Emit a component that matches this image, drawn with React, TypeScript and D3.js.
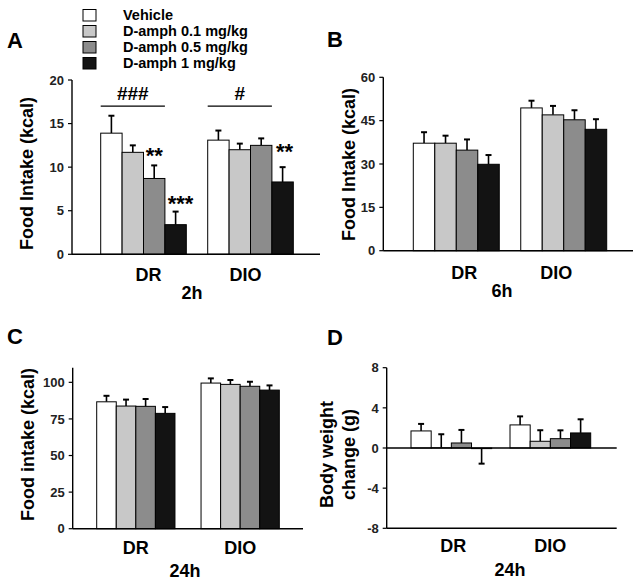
import React from "react";
import * as d3 from "d3";

const groups = ["DR", "DIO"];
const seriesNames = ["Vehicle", "D-amph 0.1 mg/kg", "D-amph 0.5 mg/kg", "D-amph 1 mg/kg"];
const seriesColors = ["#ffffff", "#c8c8c8", "#8c8c8c", "#131313"];

// Panel A: 2h food intake (kcal)
const a2hMeans = [[13.9, 11.7, 8.7, 3.4], [13.1, 12.0, 12.5, 8.3]];
const a2hErrors = [[2.0, 0.8, 1.5, 1.5], [1.1, 0.7, 0.8, 1.7]];
const aTicks = [0, 5, 10, 15, 20];
// Panel B: 6h food intake (kcal)
const b6hMeans = [[37.2, 37.2, 34.8, 29.9], [49.4, 47.0, 45.3, 42.0]];
const b6hErrors = [[3.8, 2.6, 3.7, 3.2], [2.5, 3.1, 3.3, 3.5]];
const bTicks = [0, 15, 30, 45, 60];
// Panel C: 24h food intake (kcal)
const c24hMeans = [[86.7, 83.8, 83.6, 78.8], [99.5, 98.6, 97.3, 94.7]];
const c24hErrors = [[4.1, 4.4, 5.0, 4.3], [3.2, 3.0, 3.1, 3.2]];
const cTicks = [0, 25, 50, 75, 100];
// Panel D: 24h body weight change (g)
const dBwMeans = [[1.7, 0.02, 0.5, -0.06], [2.3, 0.67, 0.93, 1.5]];
const dBwErrors = [[0.7, 1.35, 1.3, 1.5], [0.85, 1.1, 0.83, 1.36]];
const dTicks = [-8, -4, 0, 4, 8];

// significance annotations for panel A
const aStars = [
  { g: 0, s: 2, text: "**", level: 11.2, dx: 0 },
  { g: 0, s: 3, text: "***", level: 5.7, dx: 5 },
  { g: 1, s: 3, text: "**", level: 11.6, dx: 2 },
];
const aBrackets = [
  { g: 0, text: "###", level: 17.0 },
  { g: 1, text: "#", level: 17.0 },
];

const FONT = "'Liberation Sans', Arial, Helvetica, sans-serif";

type PanelProps = {
  letter: string;
  letterX: number;
  letterY: number;
  means: number[][];
  errors: number[][];
  ticks: number[];
  domain: [number, number];
  axisX: number;
  axisEnd: number;
  yTop: number;
  yBottom: number;
  bandRange: [number, number];
  padInner: number;
  titleLines: string[];
  titleX: number[];
  titleY: number;
  groupLabelY: number;
  groupLabelDx: number[];
  timeLabel: string;
  timeX: number;
  timeY: number;
  zeroLine?: boolean;
  children?: (x: any, xi: any, y: any) => React.ReactNode;
};

function Panel(p: PanelProps) {
  const y = d3.scaleLinear().domain(p.domain).range([p.yBottom, p.yTop]);
  const x = d3.scaleBand<string>().domain(groups).range(p.bandRange).paddingInner(p.padInner).paddingOuter(0);
  const xi = d3.scaleBand<string>().domain(seriesNames).range([0, x.bandwidth()]).padding(0);
  const base = p.zeroLine ? y(0) : p.yBottom;
  const cap = 3;
  return (
    <g>
      <text x={p.letterX} y={p.letterY} fontSize={22} fontWeight="bold" fontFamily={FONT}>{p.letter}</text>
      {p.titleLines.map((t, i) => (
        <text key={i} transform={`translate(${p.titleX[i]},${p.titleY}) rotate(-90)`} textAnchor="middle"
          fontSize={18} fontWeight="bold" fontFamily={FONT}>{t}</text>
      ))}
      {groups.map((g, gi) => (
        <g key={g}>
          {seriesNames.map((s, si) => {
            const v = p.means[gi][si];
            const e = p.errors[gi][si];
            const bx = (x(g) as number) + (xi(s) as number);
            const bw = xi.bandwidth();
            const cx = bx + bw / 2;
            const yv = y(v);
            const ye = v >= 0 ? y(v + e) : y(v - e);
            return (
              <g key={s}>
                <line x1={cx} x2={cx} y1={yv} y2={ye} stroke="#000" strokeWidth={1.6} />
                <line x1={cx - cap} x2={cx + cap} y1={ye} y2={ye} stroke="#000" strokeWidth={2} />
                <rect x={bx} y={Math.min(yv, base)} width={bw} height={Math.abs(base - yv)}
                  fill={seriesColors[si]} stroke="#000" strokeWidth={1} />
              </g>
            );
          })}
          <text x={(x(g) as number) + x.bandwidth() / 2 + p.groupLabelDx[gi]} y={p.groupLabelY} textAnchor="middle"
            fontSize={18} fontWeight="bold" fontFamily={FONT}>{g}</text>
        </g>
      ))}
      <line x1={p.axisX} x2={p.axisX} y1={p.yTop} y2={p.yBottom} stroke="#000" strokeWidth={1.4} />
      <line x1={p.axisX} x2={p.axisEnd} y1={p.yBottom} y2={p.yBottom} stroke="#000" strokeWidth={1.4} />
      {p.zeroLine && <line x1={p.axisX} x2={p.axisEnd} y1={y(0)} y2={y(0)} stroke="#000" strokeWidth={1.4} />}
      {p.ticks.map((t) => (
        <g key={t}>
          <line x1={p.axisX - 4} x2={p.axisX} y1={y(t)} y2={y(t)} stroke="#000" strokeWidth={1.2} />
          <text x={p.axisX - 8} y={y(t)} dy="0.36em" textAnchor="end" fontSize={13} fontWeight="bold"
            fontFamily={FONT} fill="#222">{t}</text>
        </g>
      ))}
      <text x={p.timeX} y={p.timeY} textAnchor="middle" fontSize={18} fontWeight="bold" fontFamily={FONT}>{p.timeLabel}</text>
      {p.children && p.children(x, xi, y)}
    </g>
  );
}

export default function App() {
  return (
    <div style={{ position: "absolute", left: 0, top: 0 }}>
      <svg width={641} height={584} style={{ display: "block", background: "#fff" }}>
        {seriesNames.map((s, i) => (
          <g key={s}>
            <rect x={83} y={9.5 + i * 16} width={13} height={11.5} fill={seriesColors[i]} stroke="#000" strokeWidth={1} />
            <text x={123} y={19.5 + i * 16} fontSize={14.5} fontWeight="bold" fontFamily={FONT}>{s}</text>
          </g>
        ))}
        <Panel letter="A" letterX={7} letterY={47.5} means={a2hMeans} errors={a2hErrors} ticks={aTicks}
          domain={[0, 20]} axisX={72} axisEnd={320} yTop={80} yBottom={254.3} bandRange={[100.7, 293.3]}
          padInner={0.2} titleLines={["Food Intake (kcal)"]} titleX={[33]} titleY={173.5} groupLabelY={281}
          groupLabelDx={[5, -5]} timeLabel="2h" timeX={192} timeY={299}>
          {(x, xi, y) => (
            <g>
              {aBrackets.map((b) => {
                const x0 = x(groups[b.g]);
                const x1 = x0 + xi(seriesNames[3]);
                return (
                  <g key={b.text}>
                    <line x1={x0} x2={x1} y1={y(b.level)} y2={y(b.level)} stroke="#000" strokeWidth={1.2} />
                    <text x={(x0 + x1) / 2} y={y(b.level) - 6.5} textAnchor="middle" fontSize={19} fontWeight="bold"
                      fontFamily={FONT}>{b.text}</text>
                  </g>
                );
              })}
              {aStars.map((st, i) => {
                const cx = x(groups[st.g]) + xi(seriesNames[st.s]) + xi.bandwidth() / 2 + st.dx;
                return (
                  <text key={i} x={cx} y={y(st.level) + 6} textAnchor="middle" fontSize={22} fontWeight="bold"
                    fontFamily={FONT}>{st.text}</text>
                );
              })}
            </g>
          )}
        </Panel>
        <Panel letter="B" letterX={327} letterY={47} means={b6hMeans} errors={b6hErrors} ticks={bTicks}
          domain={[0, 60]} axisX={383.3} axisEnd={633} yTop={77.3} yBottom={250.7} bandRange={[413.3, 606.7]}
          padInner={0.2} titleLines={["Food Intake (kcal)"]} titleX={[355]} titleY={164.5} groupLabelY={278.5}
          groupLabelDx={[8, -7.5]} timeLabel="6h" timeX={502} timeY={296.5} />
        <Panel letter="C" letterX={7} letterY={343.5} means={c24hMeans} errors={c24hErrors} ticks={cTicks}
          domain={[0, 110]} axisX={72.7} axisEnd={303} yTop={367.7} yBottom={528.7} bandRange={[96.7, 279.3]}
          padInner={0.25} titleLines={["Food intake (kcal)"]} titleX={[34]} titleY={444.5} groupLabelY={554}
          groupLabelDx={[0, 0]} timeLabel="24h" timeX={185} timeY={576.5} />
        <Panel letter="D" letterX={327} letterY={345} means={dBwMeans} errors={dBwErrors} ticks={dTicks}
          domain={[-8, 8]} axisX={386.7} axisEnd={616.7} yTop={367.7} yBottom={528.3} bandRange={[411, 590.7]}
          padInner={0.185} titleLines={["Body weight", "change (g)"]} titleX={[333, 355]} titleY={454.5}
          groupLabelY={551.7} groupLabelDx={[2, 0]} timeLabel="24h" timeX={510} timeY={576} zeroLine />
      </svg>
    </div>
  );
}
